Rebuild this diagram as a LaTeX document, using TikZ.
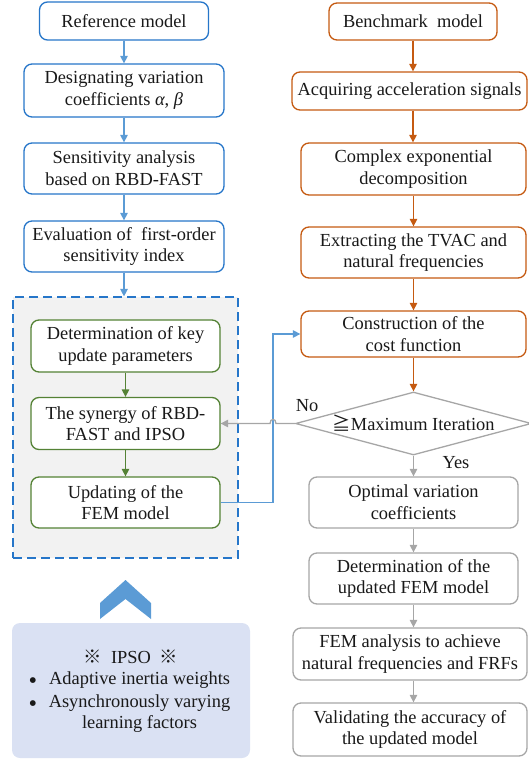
\documentclass[tikz,border=0pt]{standalone}
\usepackage{fontspec}
\setmainfont{Liberation Serif}
\newfontfamily\cjk{Noto Sans CJK SC}
\newfontfamily\dejavu{DejaVu Sans}
\usetikzlibrary{shapes.geometric,arrows.meta}

\definecolor{boxblue}{HTML}{2676C9}
\definecolor{arrowblue}{HTML}{5B9BD5}
\definecolor{boxorange}{HTML}{C55A11}
\definecolor{boxgreen}{HTML}{548235}
\definecolor{boxgray}{HTML}{A6A6A6}
\definecolor{panelgray}{HTML}{F2F2F2}
\definecolor{ipsofill}{HTML}{DAE1F3}
\definecolor{chevblue}{HTML}{5B9BD5}

\tikzset{
  basebox/.style={rectangle, rounded corners=8pt, line width=1.3pt, fill=white,
                  align=center, inner sep=0pt, text=black!90},
  bluebox/.style={basebox, draw=boxblue},
  orangebox/.style={basebox, draw=boxorange},
  greenbox/.style={basebox, draw=boxgreen},
  graybox/.style={basebox, draw=boxgray},
  arr/.style={line width=1.3pt, -{Triangle[length=7.5pt,width=7.5pt]}},
  plain/.style={inner sep=0pt, text=black!90, align=center},
  bulletmark/.style={plain, font=\dejavu\fontsize{7.5}{8}\selectfont}
}

\begin{document}
\begin{tikzpicture}[x=1pt, y=-1pt, font=\fontsize{18.4}{21.6}\selectfont]
\useasboundingbox (0,0) rectangle (528,760);

% ---------- left column: sensitivity analysis ----------
\node[bluebox, minimum width=169, minimum height=38] (ref) at (124,21) {Reference model};
\node[bluebox, minimum width=200, minimum height=53] (desig) at (124,90.5)
  {Designating variation\\coefficients \textit{α}, \textit{β}};
\node[bluebox, minimum width=200, minimum height=51] (sens) at (124,168.5)
  {Sensitivity analysis\\based on RBD-FAST};
\node[bluebox, minimum width=200, minimum height=51] (eval) at (124,246.5)
  {Evaluation of~ first-order\\sensitivity index};

% dashed panel holding the updating loop
\node[draw=boxblue, dash pattern=on 9pt off 5pt, fill=panelgray, line width=1.2pt,
      minimum width=225, minimum height=261, inner sep=0pt] (panel) at (125.5,427.5) {};

\node[greenbox, minimum width=189, minimum height=52] (key) at (125.5,346)
  {Determination of key\\update parameters};
\node[greenbox, minimum width=189, minimum height=52] (syn) at (125.5,423.5)
  {The synergy of RBD-\\FAST and IPSO};
\node[greenbox, minimum width=189, minimum height=51] (upd) at (125.5,502.5)
  {Updating of the\\FEM model};

\draw[arr, arrowblue] (ref) -- (desig);
\draw[arr, arrowblue] (desig) -- (sens);
\draw[arr, arrowblue] (sens) -- (eval);
\draw[arr, arrowblue] (eval.south) -- (eval.south |- panel.north);
\draw[arr, boxgreen] (key.south) -- (key.south |- syn.north);
\draw[arr, boxgreen] (syn.south) -- (syn.south |- upd.north);

% ---------- right column: measurement and optimisation ----------
\node[orangebox, minimum width=168, minimum height=37] (bench) at (413,21.5) {Benchmark~ model};
\node[orangebox, minimum width=235, minimum height=38] (acq) at (409.5,91) {Acquiring acceleration signals};
\node[orangebox, minimum width=225, minimum height=52] (cplx) at (413.5,169)
  {Complex exponential\\decomposition};
\node[orangebox, minimum width=225, minimum height=51] (extr) at (413.5,252.5)
  {Extracting the TVAC and\\natural frequencies};
\node[orangebox, minimum width=225, minimum height=46] (cost) at (413.5,334)
  {Construction of the\\cost function};

\node[diamond, draw=boxgray, line width=1.3pt, fill=white, aspect=3.7, inner sep=0pt,
      minimum width=236, minimum height=63, text=black!90] (dec) at (413.5,423.5)
  {{\cjk ≧}Maximum Iteration};

\node[graybox, minimum width=209, minimum height=51] (opt) at (413.5,502.5)
  {Optimal variation\\coefficients};
\node[graybox, minimum width=209, minimum height=51] (detu) at (413.5,578.5)
  {Determination of the\\updated FEM model};
\node[graybox, minimum width=234, minimum height=52] (fem) at (410,654)
  {FEM analysis to achieve\\natural frequencies and FRFs};
\node[graybox, minimum width=234, minimum height=53] (val) at (410,729.5)
  {Validating the accuracy of\\the updated model};

\draw[arr, boxorange] (bench.south) -- (bench.south |- acq.north);
\draw[arr, boxorange] (acq.south -| bench.south) -- (bench.south |- cplx.north);
\draw[arr, boxorange] (cplx.south) -- (extr.north);
\draw[arr, boxorange] (extr.south) -- (cost.north);
\draw[arr, boxorange] (cost.south) -- (dec.north);
\draw[arr, boxgray] (dec.south) -- (opt.north);
\draw[arr, boxgray] (opt.south) -- (detu.north);
\draw[arr, boxgray] (detu.south) -- (detu.south |- fem.north);
\draw[arr, boxgray] (fem.south -| detu.south) -- (detu.south |- val.north);

% ---------- loop connectors ----------
\coordinate (riser) at (273,420);
\draw[arr, arrowblue] (upd.east) -| (riser) |- (cost.west);

\coordinate (hopR) at (276,423.5);
\coordinate (hopL) at (270,423.5);
\draw[arr, boxgray] (dec.west) -- (hopR)
  .. controls (276,418) and (270,418) .. (hopL) -- (syn.east);

\node[plain] (no) at (307,406) {No};
\node[plain] (yes) at (456,463) {Yes};

% ---------- IPSO note ----------
\fill[chevblue] (100,619) -- (100,603) -- (125.5,580) -- (151,603) -- (151,619)
  -- (125.5,599) -- cycle;
\node[fill=ipsofill, rounded corners=8pt, minimum width=238, minimum height=135,
      inner sep=0pt] (ipso) at (131,690.5) {};
\node[plain] (ipsotitle) at (131,657) {{\cjk ※}\hspace{9pt}IPSO\hspace{9pt}{\cjk ※}};
\node[bulletmark] (b1) at (33,681) {●};
\node[plain, anchor=west] (t1) at (49,680) {Adaptive inertia weights};
\node[bulletmark] (b2) at (33,704) {●};
\node[plain] (t2) at (139.5,713.5) {Asynchronously varying\\learning factors};
\end{tikzpicture}
\end{document}
